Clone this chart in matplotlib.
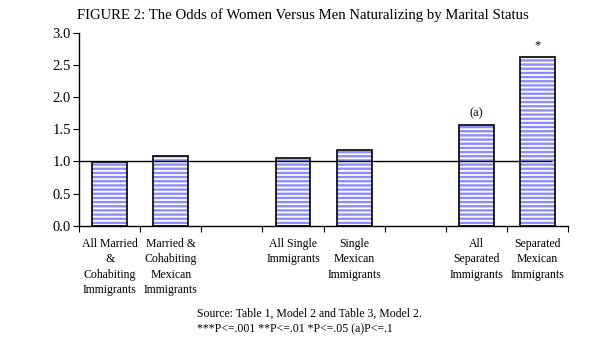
import matplotlib
matplotlib.use("Agg")
import matplotlib.pyplot as plt
import numpy as np

plt.rcParams["font.family"] = ["Liberation Serif", "DejaVu Serif"]
plt.rcParams["hatch.linewidth"] = 1.7

# data
categories = [
    "All Married\n&\nCohabiting\nImmigrants",
    "Married &\nCohabiting\nMexican\nImmigrants",
    "",
    "All Single\nImmigrants",
    "Single\nMexican\nImmigrants",
    "",
    "All\nSeparated\nImmigrants",
    "Separated\nMexican\nImmigrants",
]
odds = [0.99, 1.08, None, 1.05, 1.17, None, 1.56, 2.62]
marks = ["", "", "", "", "", "", "(a)", "*"]
yticks = [0.0, 0.5, 1.0, 1.5, 2.0, 2.5, 3.0]

title = "FIGURE 2: The Odds of Women Versus Men Naturalizing by Marital Status"
source = "Source: Table 1, Model 2 and Table 3, Model 2.\n***P<=.001 **P<=.01 *P<=.05 (a)P<=.1"

fig = plt.figure(figsize=(5.9, 3.4), dpi=100)
ax = fig.add_axes([0.134, 0.336, 0.829, 0.568])

x = np.arange(len(categories))
bx = [xi for xi, v in zip(x, odds) if v is not None]
bh = [v for v in odds if v is not None]
# striped fill, then black outline on top
ax.bar(bx, bh, width=0.57, facecolor="white", edgecolor="#8C8CFF",
       hatch="----", linewidth=0, zorder=2)
ax.bar(bx, bh, width=0.57, facecolor="none", edgecolor="black",
       linewidth=1.2, zorder=3)

ax.hlines(1.0, -0.5, 7.24, color="black", linewidth=1.0, zorder=4)

for xi, v, m in zip(x, odds, marks):
    if m and v is not None:
        ax.text(xi, v + 0.09, m, ha="center", va="bottom", fontsize=9)

ax.set_xlim(-0.5, len(categories) - 0.5)
ax.set_ylim(0, 3.0)
ax.set_yticks(yticks)
ax.set_yticklabels([f"{v:.1f}" for v in yticks], fontsize=10.5)
ax.set_xticks(np.arange(len(categories) + 1) - 0.5)
ax.set_xticklabels([])
ax.set_xticks(x, minor=True)
ax.set_xticklabels(categories, minor=True, fontsize=8.5, va="top",
                   ha="center", multialignment="center", linespacing=1.35)
ax.tick_params(axis="x", which="major", length=4, direction="out", color="black")
ax.tick_params(axis="x", which="minor", length=0, pad=9)
ax.tick_params(axis="y", length=4, direction="out", pad=2)

for side in ["top", "right"]:
    ax.spines[side].set_visible(False)
for side in ["left", "bottom"]:
    ax.spines[side].set_color("black")
    ax.spines[side].set_linewidth(1.0)

fig.text(0.513, 0.955, title, ha="center", va="center", fontsize=10.6)
fig.text(0.334, 0.055, source, ha="left", va="center", fontsize=8.5,
         linespacing=1.35)

fig.savefig("out.png", dpi=100)
